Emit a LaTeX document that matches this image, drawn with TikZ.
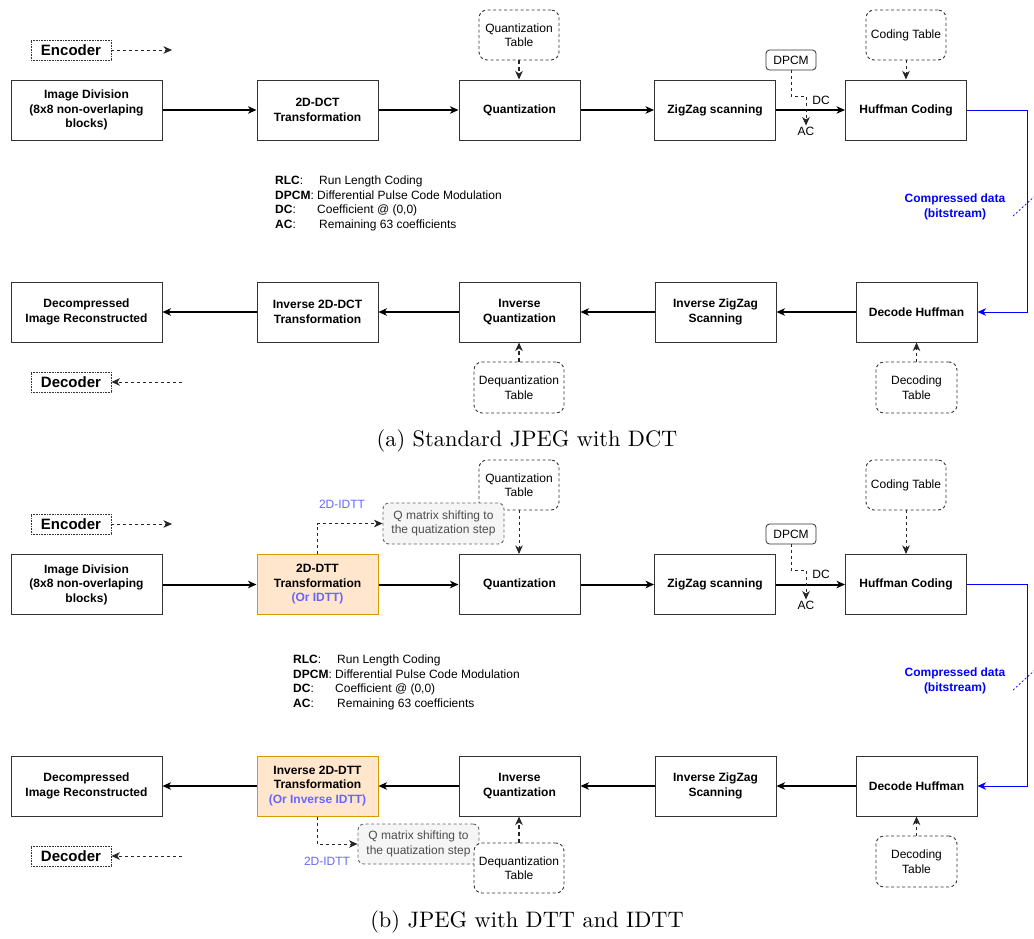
\documentclass[tikz,border=0pt]{standalone}
\usepackage{fontspec}
\newfontfamily\arial{Liberation Sans}
\newfontfamily\capfont{lmroman10-regular.otf}
\usetikzlibrary{arrows.meta,calc}
\definecolor{bord}{HTML}{333333}
\definecolor{orfill}{HTML}{FFE6CC}
\definecolor{ordraw}{HTML}{D79B00}
\definecolor{idtt}{HTML}{6666FF}
\definecolor{qfill}{HTML}{F5F5F5}
\definecolor{qdraw}{HTML}{666666}
\definecolor{qtext}{HTML}{4D4D4D}
\newcommand{\leglbl}[1]{\makebox[44pt][l]{\textbf{#1}:}}
\begin{document}
\begin{tikzpicture}[x=1pt,y=-1pt,
  every node/.style={font=\arial\fontsize{12}{14.5}\selectfont, inner sep=1pt},
  blk/.style={draw=bord, line width=1pt, fill=white, minimum width=121pt, minimum height=60pt, align=center, inner sep=0pt, font=\arial\bfseries\fontsize{12}{14.5}\selectfont},
  wblk/.style={blk, minimum width=151pt},
  oblk/.style={blk, fill=orfill, draw=ordraw},
  tbl/.style={draw=bord, line width=0.9pt, dash pattern=on 3pt off 2.5pt, rounded corners=8pt, fill=white, minimum width=80pt, minimum height=50pt, align=center, inner sep=0pt},
  qbox/.style={draw=qdraw, line width=0.9pt, dash pattern=on 3pt off 2.5pt, rounded corners=6pt, fill=qfill, minimum width=121pt, minimum height=41pt, align=center, inner sep=0pt, text=qtext},
  dpcmbox/.style={draw=bord, line width=0.8pt, rounded corners=3.5pt, fill=white, minimum width=50pt, minimum height=20pt, inner sep=0pt},
  codebox/.style={draw=bord, line width=0.8pt, dash pattern=on 0.8pt off 0.8pt, minimum width=80pt, minimum height=20pt, inner sep=0pt, font=\arial\bfseries\fontsize{15}{18}\selectfont},
  tip/.style={-{Stealth[length=8.5pt,width=7.5pt,inset=2.5pt]}},
  marr/.style={tip, line width=2pt, draw=black},
  darr/.style={tip, line width=0.9pt, dash pattern=on 3pt off 3pt, draw=black!85},
  tharr/.style={tip, line width=1.8pt, dash pattern=on 4pt off 3pt, draw=black!85},
  barr/.style={-{Stealth[length=8.5pt,width=7.5pt,inset=2.5pt]}, line width=1pt, draw=blue},
  bluelbl/.style={text=blue, align=center, font=\arial\bfseries\fontsize{12}{14.5}\selectfont},
  idlbl/.style={text=idtt},
  leg/.style={align=left, anchor=west},
  capt/.style={font=\capfont\fontsize{22.4}{26}\selectfont}
]
\useasboundingbox (0,0) rectangle (1034,938);

%%%%%%%%%%%%%%%% PANEL (a) %%%%%%%%%%%%%%%%
\node[codebox] (enca) at (71,50) {Encoder};
\coordinate (encta) at (172,50);
\draw[darr] (enca) -- (encta);

\node[wblk] (ida) at (86.5,110) {Image Division\\(8x8 non-overlaping\\blocks)};
\node[blk] (dcta) at (317.5,110) {2D-DCT\\Transformation};
\node[blk] (qa) at (519.5,110) {Quantization};
\node[blk] (zza) at (715,110) {ZigZag scanning};
\node[blk] (hca) at (906,110) {Huffman Coding};
\node[tbl] (qta) at (519,35) {Quantization\\Table};
\node[tbl] (cta) at (906,35) {Coding Table};
\node[dpcmbox] (dpa) at (791,60) {DPCM};
\node (dcla) at (821,100) {DC};
\node (acla) at (806,131) {AC};

\draw[marr] (ida) -- (dcta);
\draw[marr] (dcta) -- (qa);
\draw[marr] (qa) -- (zza);
\draw[marr] (zza) -- (hca);
\draw[tharr] (qta.south) -- (qta.south |- qa.north);
\draw[darr] (cta.south) -- (cta.south |- hca.north);
\draw[darr] (dpa.south) -- ++(0,26) -| (acla.north);

\node[bluelbl] (cda) at (955,207) {Compressed data\\(bitstream)};
\coordinate (sla1) at (1013,216);
\coordinate (sla2) at (1035,196);
\draw[blue, line width=0.7pt, dash pattern=on 2pt off 2pt] (sla1) -- (sla2);

\node[leg] (lega) at (274,203.5) {\leglbl{RLC}Run Length Coding\\\textbf{DPCM}: Differential Pulse Code Modulation\\\makebox[42pt][l]{\textbf{DC}:}Coefficient @ (0,0)\\\leglbl{AC}Remaining 63 coefficients};

\node[wblk] (dira) at (86.5,312) {Decompressed\\Image Reconstructed};
\node[blk] (idcta) at (317.5,312) {Inverse 2D-DCT\\Transformation};
\node[blk] (iqa) at (519.5,312) {Inverse\\Quantization};
\node[blk] (izza) at (715.5,312) {Inverse ZigZag\\Scanning};
\node[blk] (dha) at (916.5,312) {Decode Huffman};
\node[tbl, minimum width=90pt, minimum height=51pt] (dqta) at (519,387.5) {Dequantization\\Table};
\node[tbl, minimum width=81pt, minimum height=51pt] (dta) at (916.5,387.5) {Decoding\\Table};
\node[codebox] (deca) at (71,382) {Decoder};
\coordinate (decta) at (182,382);

\coordinate (bca) at (1027,110);
\draw[barr] (hca.east) -- (bca) |- (dha.east);
\draw[marr] (dha) -- (izza);
\draw[marr] (izza) -- (iqa);
\draw[marr] (iqa) -- (idcta);
\draw[marr] (idcta) -- (dira);
\draw[tharr] (dqta.north) -- (dqta.north |- iqa.south);
\draw[darr] (dta.north) -- (dta.north |- dha.south);
\draw[darr] (decta) -- (deca);

\node[capt] (capa) at (527,441) {(a) Standard JPEG with DCT};

%%%%%%%%%%%%%%%% PANEL (b) %%%%%%%%%%%%%%%%
\node[codebox] (encb) at (71,524) {Encoder};
\coordinate (enctb) at (172,524);
\draw[darr] (encb) -- (enctb);

\node[wblk] (idb) at (86.5,584.5) {Image Division\\(8x8 non-overlaping\\blocks)};
\node[oblk] (dttb) at (317.5,584.5) {2D-DTT\\Transformation\\\textcolor{idtt}{(Or IDTT)}};
\node[blk] (qb) at (519.5,584.5) {Quantization};
\node[blk] (zzb) at (715,584.5) {ZigZag scanning};
\node[blk] (hcb) at (906,584.5) {Huffman Coding};
\node[tbl] (qtb) at (519,485) {Quantization\\Table};
\node[tbl] (ctb) at (906,485) {Coding Table};
\node[qbox] (qmb) at (443.5,523.5) {Q matrix shifting to\\the quatization step};
\node[idlbl] (idla) at (342,504) {2D-IDTT};
\node[dpcmbox] (dpb) at (791,534) {DPCM};
\node (dclb) at (821,574) {DC};
\node (aclb) at (806,605) {AC};

\draw[marr] (idb) -- (dttb);
\draw[marr] (dttb) -- (qb);
\draw[marr] (qb) -- (zzb);
\draw[marr] (zzb) -- (hcb);
\draw[darr] (qtb.south) -- (qtb.south |- qb.north);
\draw[darr] (ctb.south) -- (ctb.south |- hcb.north);
\draw[darr] (dpb.south) -- ++(0,26) -| (aclb.north);
\draw[darr] (dttb.north) |- (qmb.west);

\node[wblk] (dirb) at (86.5,786) {Decompressed\\Image Reconstructed};
\node[oblk] (idttb) at (317.5,786) {Inverse 2D-DTT\\Transformation\\\textcolor{idtt}{(Or Inverse IDTT)}};
\node[blk] (iqb) at (519.5,786) {Inverse\\Quantization};
\node[blk] (izzb) at (715.5,786) {Inverse ZigZag\\Scanning};
\node[blk] (dhb) at (916.5,786) {Decode Huffman};
\node[qbox, minimum height=40pt] (qmb2) at (418.5,844) {Q matrix shifting to\\the quatization step};
\node[tbl, minimum width=90pt] (dqtb) at (519,868) {Dequantization\\Table};
\node[tbl, minimum width=81pt, minimum height=51pt] (dtb) at (916.5,861.5) {Decoding\\Table};
\node[idlbl] (idlb) at (327,861) {2D-IDTT};
\node[codebox] (decb) at (71,856) {Decoder};
\coordinate (dectb) at (182,856);

\coordinate (bcb) at (1027,584.5);
\draw[barr] (hcb.east) -- (bcb) |- (dhb.east);
\node[bluelbl] (cdb) at (955,681) {Compressed data\\(bitstream)};
\coordinate (slb1) at (1013,690);
\coordinate (slb2) at (1035,670);
\draw[blue, line width=0.7pt, dash pattern=on 2pt off 2pt] (slb1) -- (slb2);

\node[leg] (legb) at (292,682.5) {\leglbl{RLC}Run Length Coding\\\textbf{DPCM}: Differential Pulse Code Modulation\\\makebox[42pt][l]{\textbf{DC}:}Coefficient @ (0,0)\\\leglbl{AC}Remaining 63 coefficients};

\draw[marr] (dhb) -- (izzb);
\draw[marr] (izzb) -- (iqb);
\draw[marr] (iqb) -- (idttb);
\draw[marr] (idttb) -- (dirb);
\draw[tharr] (dqtb.north) -- (dqtb.north |- iqb.south);
\draw[darr] (dtb.north) -- (dtb.north |- dhb.south);
\draw[darr] (idttb.south) |- (qmb2.west);
\draw[darr] (dectb) -- (decb);

\node[capt] (capb) at (527,922) {(b) JPEG with DTT and IDTT};
\end{tikzpicture}
\end{document}
